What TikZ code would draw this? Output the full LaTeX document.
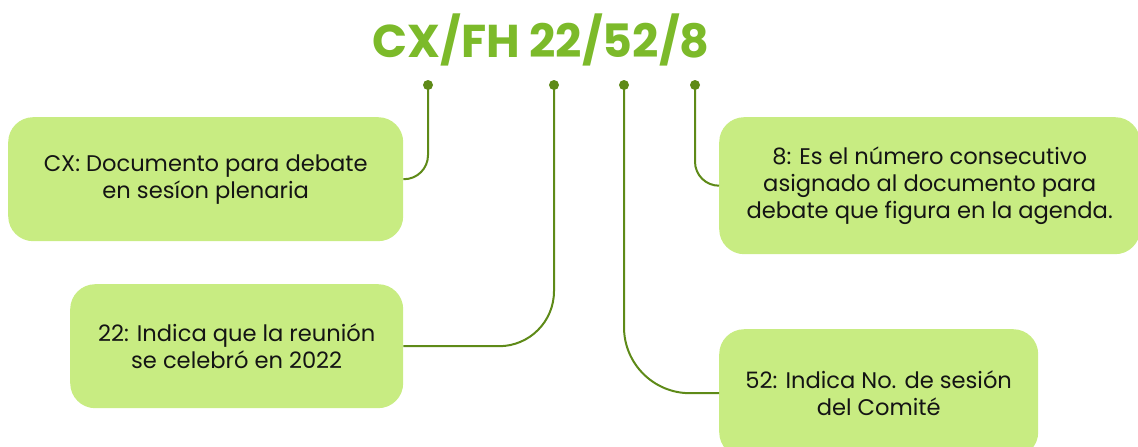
\documentclass[tikz,border=0pt]{standalone}
\usepackage{fontspec}
\setmainfont{Poppins}
\usepackage{xcolor}
\usepackage{tikz}
\usetikzlibrary{calc}
\definecolor{boxGreen}{HTML}{C8EC82}
\definecolor{lineGreen}{HTML}{5E8A18}
\definecolor{titleGreen}{HTML}{7CBA2A}
\definecolor{textBlack}{HTML}{141414}
\tikzstyle{descbox} = [rectangle, rounded corners=25pt, 
fill=boxGreen, 
text=textBlack, 
align=center, 
anchor=north west, 
font=\fontsize{22.6}{27}\selectfont]
\tikzstyle{pin} = [circle, fill=lineGreen, inner sep=0pt, minimum size=10pt]
\tikzstyle{link} = [draw=lineGreen, line width=2pt]

\begin{document}
\begin{tikzpicture}[x=1pt, y=-1pt]
			\useasboundingbox (0,0) rectangle (1138,447);
			\clip (0,0) rectangle (1138,447);
			\node (code) [anchor=base, text=titleGreen, font=\fontsize{46}{50}\selectfont\bfseries] at (541,57) {CX/FH 22/52/8};
			
			\node (cxBox)[descbox, minimum width=395pt, minimum height=124pt] at (8,117) {CX: Documento para debate\\en sesíon plenaria};
			\node (yearBox)[descbox, minimum width=333pt, minimum height=124pt] at (70,284) {22: Indica que la reunión\\se celebró en 2022};
			\node (numBox)[descbox, minimum width=421pt, minimum height=137pt] at (719,117) {8: Es el número consecutivo\\asignado al documento para\\debate que figura en la agenda.};
			\node (sesBox)[descbox, minimum width=319pt, minimum height=128pt] at (719,329) {52: Indica No. de sesión\\del Comité};
			
			\node (cxPin)[pin] at (428,85) {};
			\node (yearPin)[pin] at (554,85) {};
			\node (sesPin)[pin] at (624,85) {};
			\node (numPin)[pin] at (695,85) {};
			
			\draw [link, rounded corners=24pt] (cxPin.center) |- (cxBox.east);
			\draw [link, rounded corners=55pt] (yearPin.center) |- (yearBox.east);
			\draw [link, rounded corners=66pt] (sesPin.center) |- (sesBox.west);
			\draw [link, rounded corners=24pt] (numPin.center) |- (numBox.west);
		\end{tikzpicture}
\end{document}
